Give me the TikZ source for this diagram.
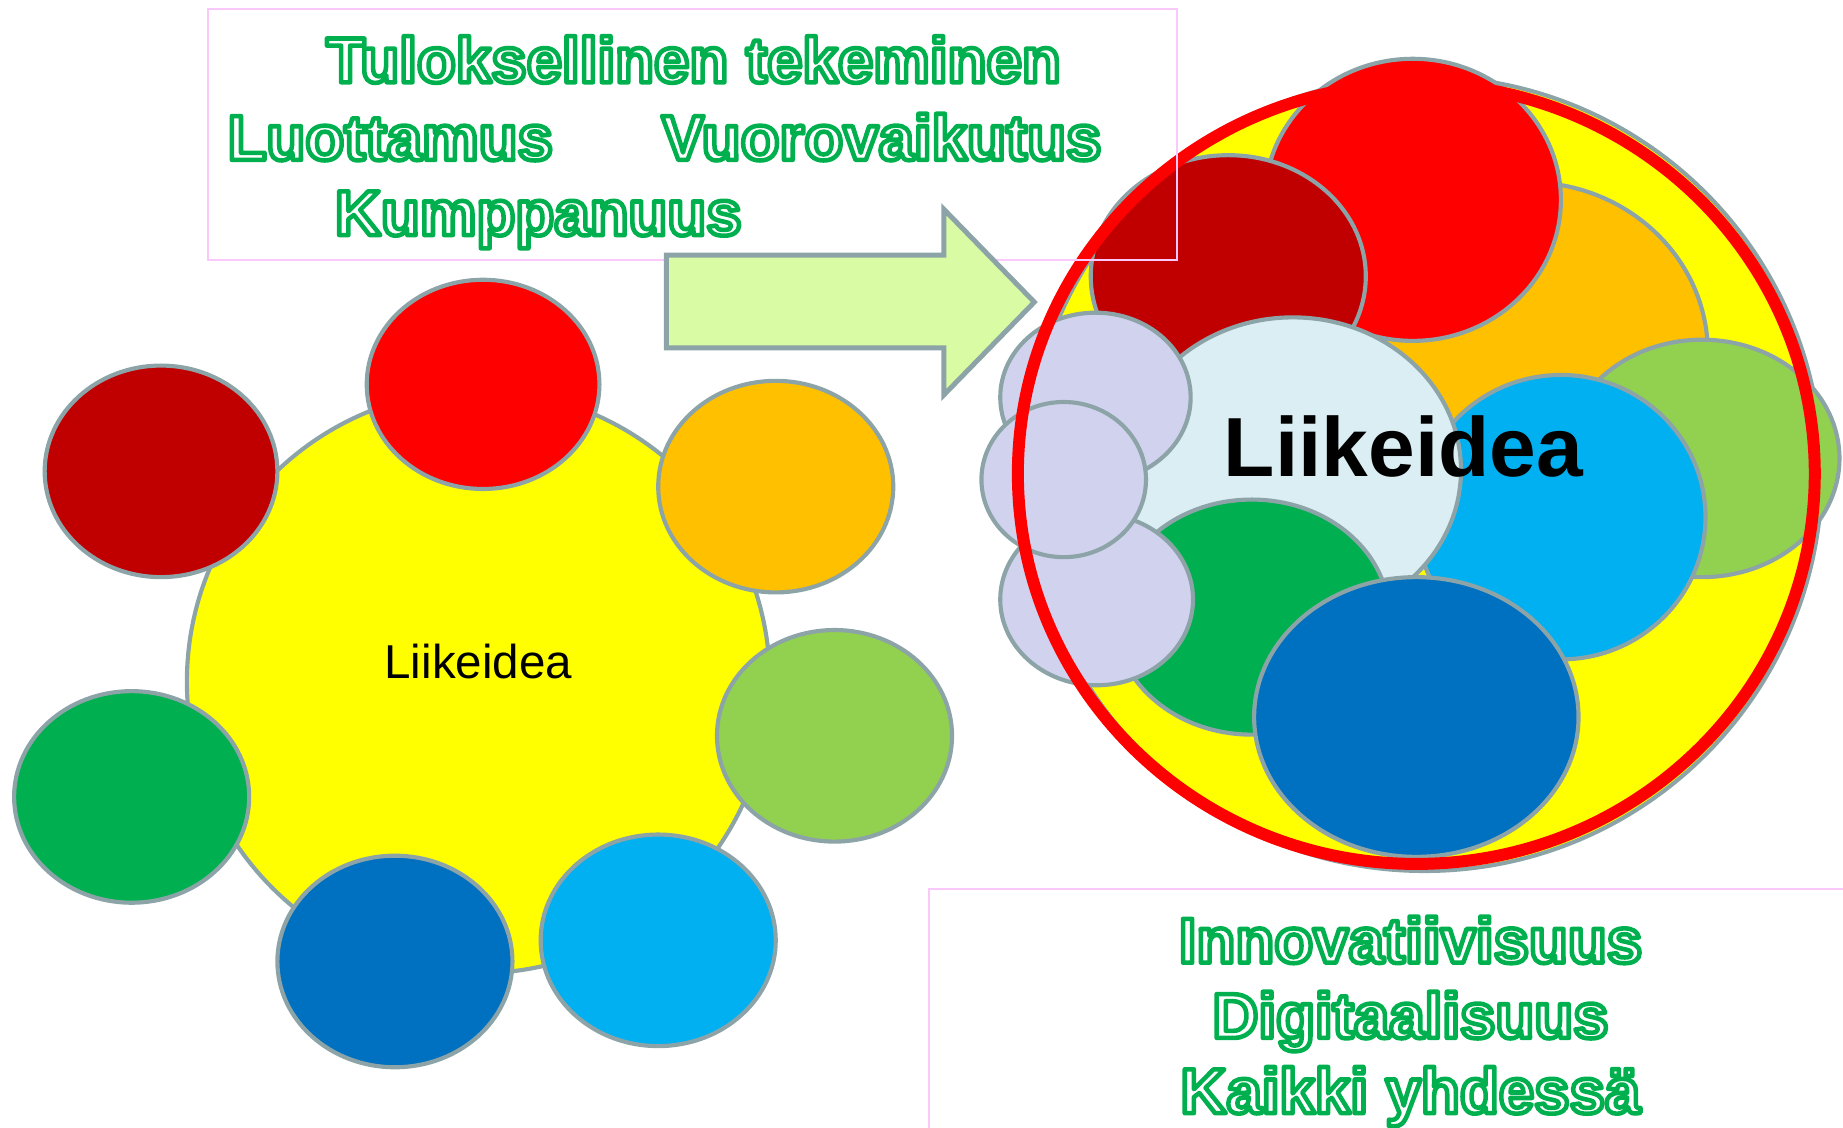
\documentclass[tikz,border=0pt]{standalone}
\usepackage{fontspec}
\setmainfont{Liberation Sans}
\usetikzlibrary{positioning}

\definecolor{reuna}{RGB}{140,164,167}
\definecolor{tummapun}{RGB}{192,0,0}
\definecolor{puna}{RGB}{255,0,0}
\definecolor{oranssi}{RGB}{255,192,0}
\definecolor{vaalvihr}{RGB}{146,208,80}
\definecolor{syaani}{RGB}{0,176,240}
\definecolor{sini}{RGB}{0,112,192}
\definecolor{vihrea}{RGB}{0,176,80}
\definecolor{kelta}{RGB}{255,255,0}
\definecolor{jaa}{RGB}{218,238,243}
\definecolor{laventeli}{RGB}{209,210,238}
\definecolor{nuoli}{RGB}{217,251,164}
\definecolor{pinkki}{RGB}{250,200,250}

% vihrea aariviiva, valkoinen tayte
\newcommand{\ontto}[1]{\special{pdf:literal direct 2 Tr 1 j 1.1 w 0 0.69 0.31 RG}#1\special{pdf:literal direct 0 Tr}}
\newcommand{\pallo}[5]{\filldraw[pallo, fill=#1] (#2, #3) ellipse [x radius=#4, y radius=#5];}

\begin{document}
\begin{tikzpicture}[
            x=0.01cm, y=-0.01cm,
            pallo/.style={draw=reuna, line width=1pt},
            laatikko/.style={draw=pinkki, line width=0.5pt},
            iskulause/.style={text=white, inner sep=0pt, anchor=base, font=\bfseries\fontsize{15.4}{18}\selectfont},
            idea/.style={inner sep=0pt, font=\fontsize{11.5}{14}\selectfont},
            isoidea/.style={inner sep=0pt, font=\bfseries\fontsize{20.3}{24}\selectfont}
        ]
        \useasboundingbox (0, 0) rectangle (1568, 959);

        % vasen ryhma
        \filldraw[pallo, fill=kelta] (407, 580) circle [radius=248];
        \pallo{puna}{411}{327}{99}{89}
        \pallo{tummapun}{137}{401}{99}{90}
        \pallo{oranssi}{660}{414}{100}{90}
        \pallo{vaalvihr}{710}{626}{100}{90}
        \pallo{syaani}{560}{800}{100}{90}
        \pallo{sini}{336}{818}{100}{90}
        \pallo{vihrea}{112}{678}{100}{90}
        \node[idea] (idea1) at (407, 563) {Liikeidea};

        % oikea ryhma
        \filldraw[pallo, fill=kelta] (1212, 403) circle [radius=338];
        \pallo{oranssi}{1300}{300}{153}{145}
        \pallo{puna}{1202}{170}{126}{120}
        \pallo{tummapun}{1045}{235}{117}{103}
        \pallo{vaalvihr}{1448}{390}{117}{101}
        \pallo{syaani}{1328}{440}{123}{121}
        \pallo{jaa}{1100}{400}{143}{130}
        \pallo{vihrea}{1065}{525}{117}{100}
        \pallo{laventeli}{932}{338}{81}{72}
        \pallo{laventeli}{933}{510}{82}{73}
        \pallo{laventeli}{905}{408}{70}{66}
        \pallo{sini}{1205}{610}{138}{119}
        \draw[puna, line width=2.9pt] (1205, 403) ellipse [x radius=339, y radius=332];
        \node[isoidea] (idea2) at (1194, 380) {Liikeidea};

        % laatikot ja nuoli
        \draw[laatikko] (177, 8) rectangle (1001, 221);
        \draw[laatikko] (1570, 756) -- (790, 756) -- (790, 962);
        \filldraw[draw=reuna, fill=nuoli, line width=1.2pt]
            (567, 217) -- (803, 217) -- (803, 178) -- (880, 257) -- (803, 336) -- (803, 296) -- (567, 296) -- cycle;

        \node[iskulause] (tulos) at (590, 70) {\ontto{Tuloksellinen tekeminen}};
        \node[iskulause] (luotto) at (332, 136) {\ontto{Luottamus}};
        \node[iskulause] (vuoro) at (750, 136) {\ontto{Vuorovaikutus}};
        \node[iskulause] (kump) at (458, 200) {\ontto{Kumppanuus}};

        \node[iskulause] (inno) at (1200, 819) {\ontto{Innovatiivisuus}};
        \node[iskulause] (digi) at (1200, 883) {\ontto{Digitaalisuus}};
        \node[iskulause] (kaikki) at (1200, 947) {\ontto{Kaikki yhdessä}};
    \end{tikzpicture}
\end{document}
